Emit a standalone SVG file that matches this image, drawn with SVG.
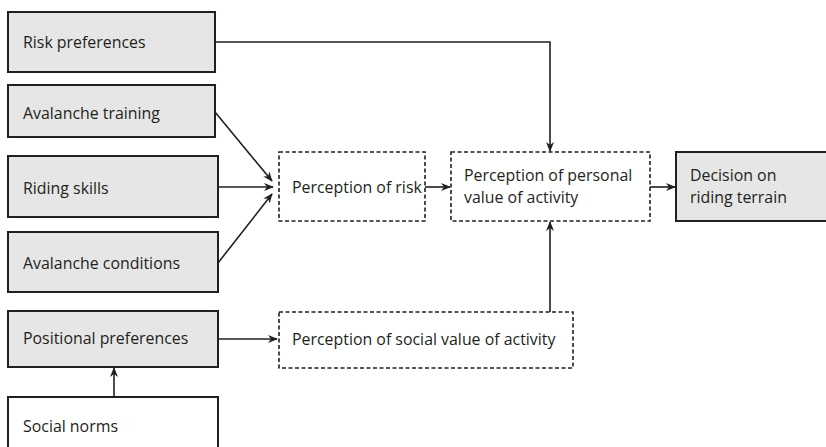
<svg xmlns="http://www.w3.org/2000/svg" width="826" height="447" viewBox="0 0 826 447">
<defs>
<marker id="ah" markerWidth="10" markerHeight="8" refX="9" refY="4" orient="auto" markerUnits="userSpaceOnUse">
<path d="M0,0 L10,4 L0,8 L3,4 Z" fill="#231f20"/>
</marker>
</defs>
<style>
.g{fill:#e6e6e6;stroke:#231f20;stroke-width:2}
.w{fill:#ffffff;stroke:#231f20;stroke-width:2}
.d{fill:#ffffff;stroke:#231f20;stroke-width:1.6;stroke-dasharray:4 2.5}
text{font-family:"Open Sans","Liberation Sans",sans-serif;font-size:15.9px;fill:#231f20}
.c{fill:none;stroke:#231f20;stroke-width:1.6;marker-end:url(#ah)}
</style>
<rect width="826" height="447" fill="#ffffff"/>
<g id="risk-preferences"><rect class="g" x="8" y="12" width="207" height="60"/><text x="23" y="48">Risk preferences</text></g>
<g id="avalanche-training"><rect class="g" x="8" y="85" width="207" height="52"/><text x="23" y="119">Avalanche training</text></g>
<g id="riding-skills"><rect class="g" x="8" y="156" width="210" height="61"/><text x="23" y="194">Riding skills</text></g>
<g id="avalanche-conditions"><rect class="g" x="8" y="232" width="210" height="60"/><text x="23" y="269">Avalanche conditions</text></g>
<g id="positional-preferences"><rect class="g" x="8" y="311" width="210" height="56"/><text x="23" y="344">Positional preferences</text></g>
<g id="social-norms"><rect class="w" x="8" y="397" width="210" height="60"/><text x="23" y="432">Social norms</text></g>
<g id="perception-of-risk"><rect class="d" x="279" y="152" width="146" height="69"/><text x="292" y="193">Perception of risk</text></g>
<g id="perception-of-personal-value"><rect class="d" x="451" y="152" width="199" height="69"/><text x="464" y="181">Perception of personal</text><text x="464" y="203">value of activity</text></g>
<g id="decision-on-riding-terrain"><rect class="g" x="676" y="152" width="160" height="69"/><text x="690" y="181">Decision on</text><text x="690" y="203">riding terrain</text></g>
<g id="perception-of-social-value"><rect class="d" x="279" y="312" width="294" height="56"/><text x="292" y="345">Perception of social value of activity</text></g>
<g id="connectors">
<path class="c" d="M215,42 H550 V151"/>
<path class="c" d="M215,112 L272,181"/>
<path class="c" d="M218,187 H273"/>
<path class="c" d="M218,263 L272,194"/>
<path class="c" d="M425,187 H450"/>
<path class="c" d="M650,187 H675"/>
<path class="c" d="M550,312 V222"/>
<path class="c" d="M218,339 H277"/>
<path class="c" d="M114,397 V368"/>
</g>
</svg>
